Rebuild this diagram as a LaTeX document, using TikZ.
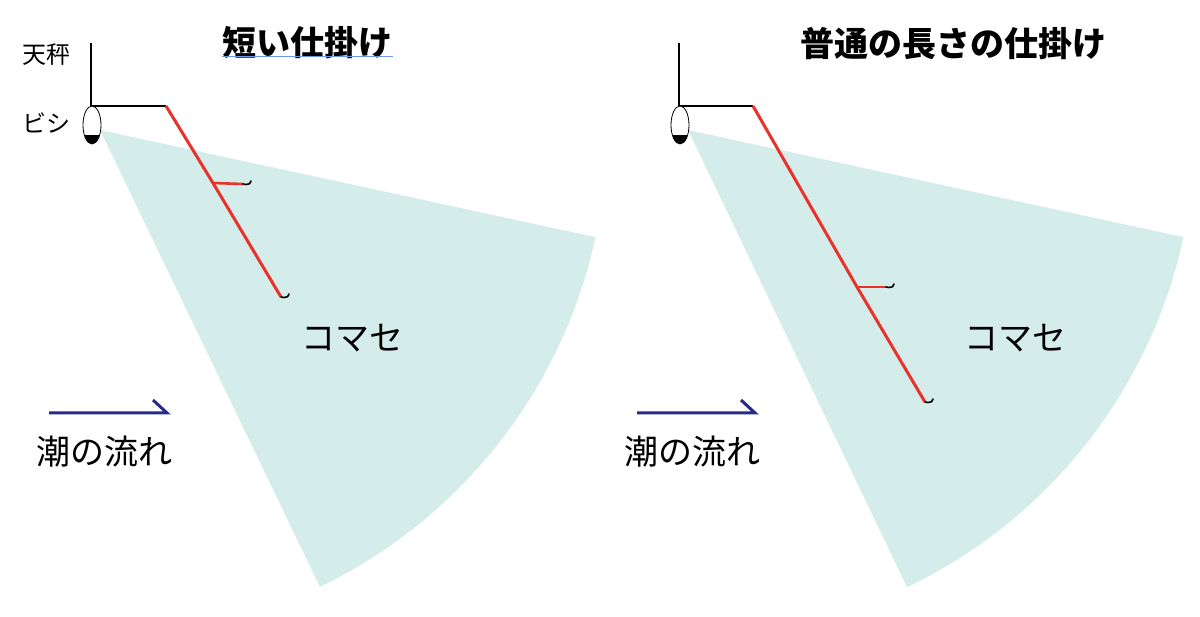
\documentclass[tikz,border=0pt]{standalone}
\usepackage{fontspec}
\usetikzlibrary{shapes.geometric}
\setmainfont{Noto Sans CJK JP}
\definecolor{fan}{HTML}{D5EDEA}
\definecolor{rline}{HTML}{E8322A}
\definecolor{navy}{HTML}{262B8A}
\definecolor{uline}{HTML}{6F96EE}
\tikzset{
  stem/.style={draw=black, line width=2.4pt},
  redline/.style={draw=rline, line width=3pt},
  hook/.style={draw=black, line width=1.6pt, line cap=round},
  flow/.style={draw=navy, line width=3pt},
  big/.style={font=\fontsize{34}{38}\selectfont, inner sep=0pt},
  small/.style={font=\fontsize{24}{28}\selectfont, inner sep=0pt},
  ttl/.style={font=\fontsize{34}{38}\selectfont\bfseries, inner sep=0pt},
}
\begin{document}
\begin{tikzpicture}[x=1pt, y=1pt, yscale=-1]
\useasboundingbox (0,0) rectangle (1200,617);
% ---------- left panel ----------
\coordinate (LA) at (100,130);
\fill[fan] (LA) -- ++(12.2:507) arc[start angle=12.2, end angle=64.3, radius=507] -- cycle;
\coordinate (LS1) at (91,43);
\coordinate (LS2) at (91,106);
\coordinate (LC) at (166,106);
\draw[stem] (LS1) -- (LS2) -- (LC);
\node[draw=black, line width=0.8pt, ellipse, minimum width=18pt, minimum height=38pt, inner sep=0pt, fill=white] (LB) at (92,125) {};
\begin{scope}
\clip (92,125) ellipse[x radius=9, y radius=19];
\fill[black] (70,135) rectangle (115,150);
\end{scope}
\coordinate (LK) at (213,183);
\coordinate (LE) at (281,297);
\coordinate (LBE) at (243,184);
\draw[redline] (LC) -- (LK) -- (LE);
\draw[redline, line width=2.6pt] (LK) -- (LBE);
\draw[hook] (LBE) -- ++(3,0.5) .. controls +(3,0.5) and +(0,2) .. ++(5,-3.5);
\draw[hook] (LE) -- ++(3,0.5) .. controls +(3,0.5) and +(0,2) .. ++(5,-3.5);
\node[small] (ten1) at (47,55) {天秤};
\node[small] (bishi1) at (47,123) {ビシ};
\node[ttl] (t1) at (307,43) {短い仕掛け};
\draw[uline, line width=0.8pt] (222,56.5) -- (393,56.5);
\node[big] (km1) at (352,338) {コマセ};
\coordinate (LF1) at (49,413);
\coordinate (LF2) at (167,413);
\coordinate (LF3) at (153,400);
\draw[flow] (LF1) -- (LF2) -- (LF3);
\node[big] (sh1) at (104,452) {潮の流れ};
% ---------- right panel ----------
\coordinate (RA) at (688,130);
\fill[fan] (RA) -- ++(12.2:507) arc[start angle=12.2, end angle=64.4, radius=507] -- cycle;
\coordinate (RS1) at (679,43);
\coordinate (RS2) at (679,106);
\coordinate (RC) at (753,106);
\draw[stem] (RS1) -- (RS2) -- (RC);
\node[draw=black, line width=0.8pt, ellipse, minimum width=18pt, minimum height=38pt, inner sep=0pt, fill=white] (RB) at (680,125) {};
\begin{scope}
\clip (680,125) ellipse[x radius=9, y radius=19];
\fill[black] (658,135) rectangle (703,150);
\end{scope}
\coordinate (RK) at (857,287);
\coordinate (RE) at (925,402);
\coordinate (RBE) at (886,287);
\draw[redline] (RC) -- (RK) -- (RE);
\draw[redline, line width=2.6pt] (RK) -- (RBE);
\draw[hook] (RBE) -- ++(3,0.5) .. controls +(3,0.5) and +(0,2) .. ++(5,-3.5);
\draw[hook] (RE) -- ++(3,0.5) .. controls +(3,0.5) and +(0,2) .. ++(5,-3.5);
\node[ttl] (t2) at (953,44) {普通の長さの仕掛け};
\node[big] (km2) at (1015,338) {コマセ};
\coordinate (RF1) at (637,413);
\coordinate (RF2) at (755,413);
\coordinate (RF3) at (741,400);
\draw[flow] (RF1) -- (RF2) -- (RF3);
\node[big] (sh2) at (692,452) {潮の流れ};
\end{tikzpicture}
\end{document}
